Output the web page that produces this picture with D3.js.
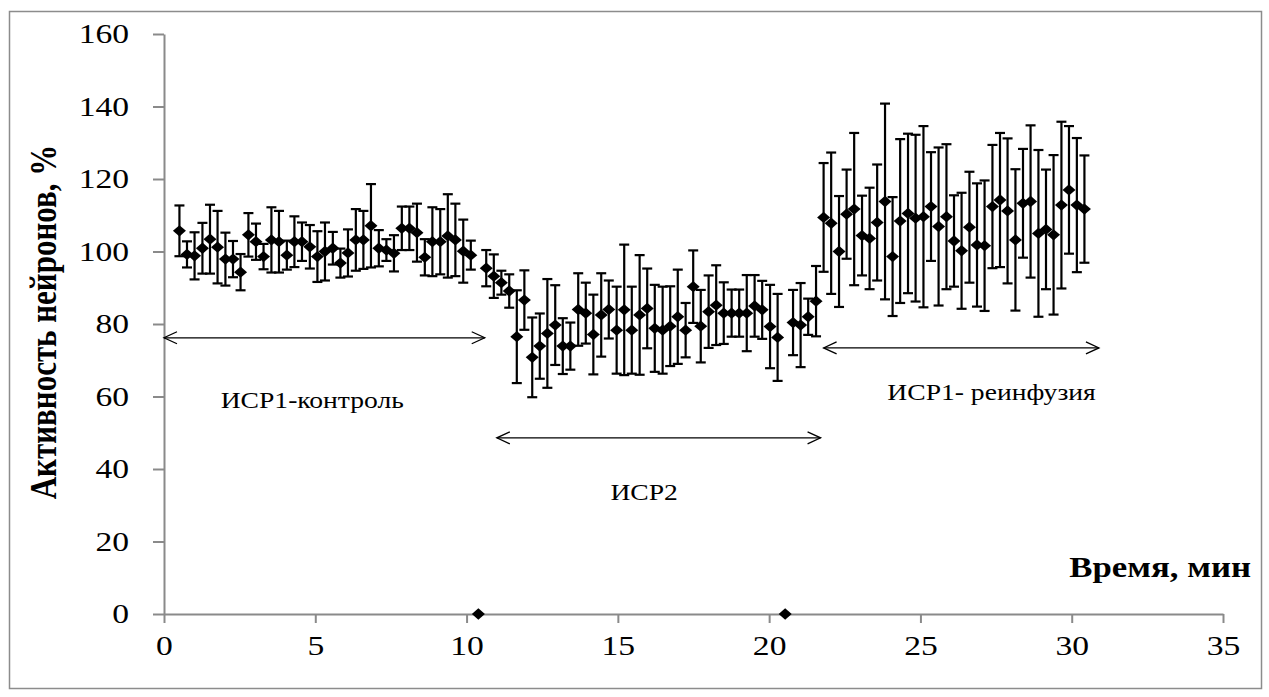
<!DOCTYPE html>
<html><head><meta charset="utf-8">
<script src="https://cdn.jsdelivr.net/npm/d3@7"></script>
<style>html,body{margin:0;padding:0;background:#fff;}svg{display:block;}</style>
</head><body>
<svg id="chart" width="1269" height="697"></svg>
<script>
// time, min
const times = [0.51,0.76,1.01,1.27,1.52,1.77,2.03,2.28,2.53,2.79,3.04,3.29,3.55,3.80,4.06,4.31,4.56,4.82,5.07,5.32,
5.58,5.83,6.08,6.34,6.59,6.84,7.10,7.35,7.60,7.86,8.11,8.36,8.62,8.87,9.13,9.38,9.63,9.89,10.14,10.39,
10.65,10.90,11.15,11.41,11.66,11.91,12.17,12.42,12.67,12.93,13.18,13.43,13.69,13.94,14.19,14.45,14.70,14.96,15.21,15.46,
15.72,15.97,16.22,16.48,16.73,16.98,17.24,17.49,17.74,18.00,18.25,18.50,18.76,19.01,19.26,19.52,19.77,20.03,20.28,20.53,
20.79,21.04,21.29,21.55,21.80,22.05,22.31,22.56,22.81,23.07,23.32,23.57,23.83,24.08,24.33,24.59,24.84,25.10,25.35,25.60,
25.86,26.11,26.36,26.62,26.87,27.12,27.38,27.63,27.88,28.14,28.39,28.64,28.90,29.15,29.40,29.66,29.91,30.17,30.42];
// neuron activity, %
const activity = [105.7,99.2,98.8,100.9,103.4,101.2,97.9,97.9,94.3,104.6,102.7,98.6,103.2,102.7,99.0,102.7,102.7,101.3,98.6,100.0,
100.9,96.8,99.6,103.2,103.2,107.1,100.9,100.4,99.5,106.4,106.4,105.2,98.4,102.7,102.7,104.3,103.2,100.1,99.0,
0,
95.4,93.2,91.4,89.1,76.5,86.6,70.8,73.9,77.4,79.7,73.9,73.9,84.0,83.0,77.1,82.5,84.0,78.3,83.9,78.3,
82.5,84.3,78.8,78.3,79.4,82.0,78.3,90.3,79.4,83.4,85.2,83.0,83.0,83.0,83.0,85.0,83.9,79.3,76.3,
0,
80.4,79.7,82.0,86.3,109.4,107.8,100.0,110.3,111.7,104.4,103.6,108.0,113.8,98.6,108.4,110.5,109.2,109.6,112.4,106.9,
109.6,102.9,100.2,106.7,101.8,101.6,112.4,114.2,111.2,103.2,113.3,113.8,105.0,106.1,104.6,112.8,117.0,112.8,111.7];
// error (±)
const errors = [7,3.6,6.5,7,9.5,10,7.3,5,5,6,5,3.5,9,8.5,4,7,5.3,6,7,8,
4.5,4,6.5,8.5,8,11.5,5,3,5,6,6,8,5,9.5,9,11.5,10,8.7,4,
0,
5,6,3.3,4.6,12.8,8.2,11,9,15,11,7.7,6.5,10,8.4,11,11.5,8,12,18,12,
16.5,11,12,12,11,13,7.5,10,10,10,11,8.5,6.5,6.5,10.5,8.5,8,11.5,12,
0,
9,11.6,5,9.7,15,19.5,15.3,12.3,21,11,14,16,27,16.4,22.6,22,23,25,15,21.8,
20,12.6,16,15.3,17,18,17,18.5,20,19.5,15,21,23,16.5,22,23,17.6,18.5,14.8];

const xTicks = [0,5,10,15,20,25,30,35];
const yTicks = [0,20,40,60,80,100,120,140,160];
const xTitle = "Время, мин";
const yTitle = "Активность нейронов, %";
// annotation periods
const periodNames = ["ИСР1-контроль","ИСР2","ИСР1- реинфузия"];
const periodStart = [0.0, 11.0, 21.8];
const periodEnd = [10.6, 21.7, 30.9];
const periodLevel = [76.2, 48.6, 73.4];

const svg = d3.select("#chart");
const FONT = "'Liberation Serif','Times New Roman',serif";
const SX = 1.2; // horizontal stretch of text in the original picture

svg.append("rect").attr("x",9.5).attr("y",11.5).attr("width",1252).attr("height",677)
  .attr("fill","#fff").attr("stroke","#8c8c8c").attr("stroke-width",1.5);

const x = d3.scaleLinear().domain([0,35]).range([164,1223]);
const y = d3.scaleLinear().domain([0,160]).range([614,34]);

const axisColor = "#8a8a8a";
const gx = svg.append("g").attr("transform",`translate(0,${y(0)})`)
  .call(d3.axisBottom(x).tickValues(xTicks).tickSize(9).tickSizeOuter(0).tickFormat(d3.format("d")));
const gy = svg.append("g").attr("transform",`translate(${x(0)},0)`)
  .call(d3.axisLeft(y).tickValues(yTicks).tickSize(11).tickSizeOuter(0).tickFormat(d3.format("d")));
[gx,gy].forEach(g=>{
  g.select(".domain").attr("stroke",axisColor).attr("stroke-width",2);
  g.selectAll(".tick line").attr("stroke",axisColor).attr("stroke-width",2);
  g.selectAll(".tick text").attr("fill","#000").style("font-family",FONT).style("font-size","28px");
});
gx.selectAll(".tick text").attr("y",21).attr("transform",`scale(${SX},1)`);
gy.selectAll(".tick text").attr("x",-35/SX).attr("transform",function(){
  return `scale(${SX},1)`;
});
// keep y tick labels vertically at their ticks (scale only affects x)

// error bars
const bars = svg.append("g");
const pts = times.map((t,i)=>({t, v:activity[i], e:errors[i]}));
const cap = 5;
pts.filter(d=>d.e>0).forEach(d=>{
  const cx = x(d.t), y1 = y(d.v+d.e), y2 = y(d.v-d.e);
  bars.append("line").attr("x1",cx).attr("x2",cx).attr("y1",y1).attr("y2",y2);
  bars.append("line").attr("x1",cx-cap).attr("x2",cx+cap).attr("y1",y1).attr("y2",y1);
  bars.append("line").attr("x1",cx-cap).attr("x2",cx+cap).attr("y1",y2).attr("y2",y2);
});
bars.selectAll("line").attr("stroke","#000").attr("stroke-width",2.2);

// markers
const sym = d3.symbol().type(d3.symbolSquare).size(64);
svg.append("g").selectAll("path").data(pts).join("path")
  .attr("d",sym)
  .attr("transform",d=>`translate(${x(d.t)},${y(d.v)}) scale(1.15,1) rotate(45)`)
  .attr("fill","#000");

// period arrows
const ann = svg.append("g").attr("stroke","#000").attr("stroke-width",1.3).attr("fill","none");
const head = 13, hw = 6;
periodNames.forEach((name,i)=>{
  const x1 = x(periodStart[i]), x2 = x(periodEnd[i]), yy = y(periodLevel[i]);
  ann.append("line").attr("x1",x1).attr("x2",x2).attr("y1",yy).attr("y2",yy);
  ann.append("path").attr("d",`M${x1+head},${yy-hw}L${x1},${yy}L${x1+head},${yy+hw}`);
  ann.append("path").attr("d",`M${x2-head},${yy-hw}L${x2},${yy}L${x2-head},${yy+hw}`);
});
const labelX = [4.9, 15.87, 27.35];
const labelY = [56.8, 31.4, 58.9];
periodNames.forEach((name,i)=>{
  svg.append("text").attr("transform",`translate(${x(labelX[i])},${y(labelY[i])}) scale(${SX},1)`)
    .attr("text-anchor","middle")
    .style("font-family",FONT).style("font-size","23px").attr("fill","#000").text(name);
});

// axis titles
svg.append("text").attr("transform",`translate(1251,577) scale(${SX},1)`).attr("text-anchor","end")
  .style("font-family",FONT).style("font-size","29px").style("font-weight","bold").text(xTitle);
svg.append("text").attr("transform",`translate(56,322) scale(${SX},1) rotate(-90)`).attr("text-anchor","middle")
  .style("font-family",FONT).style("font-size","31px").style("font-weight","bold").text(yTitle);
</script>
</body></html>
